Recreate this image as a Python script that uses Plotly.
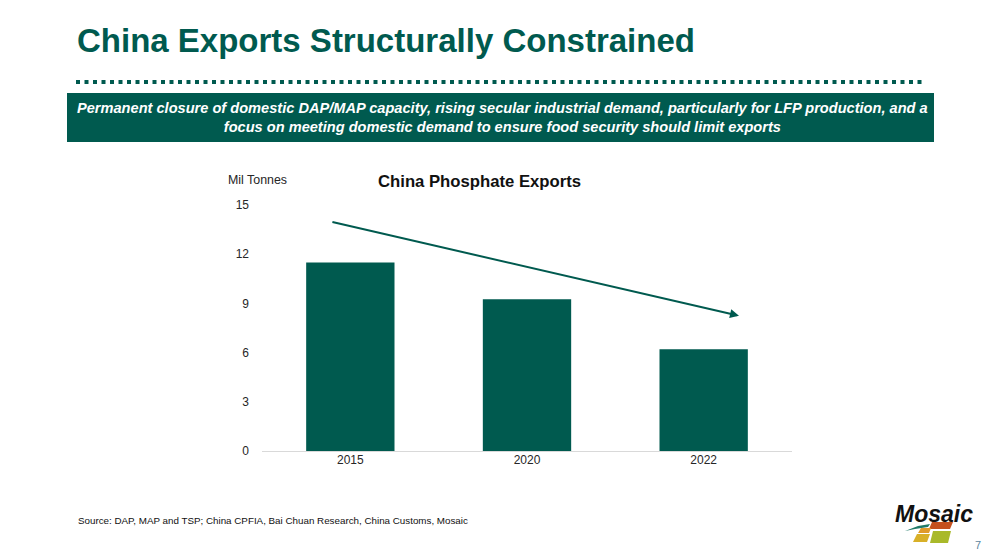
import plotly.graph_objects as go

# ---- data ----
years = ["2015", "2020", "2022"]
exports = [11.5, 9.25, 6.2]
y_ticks = [0, 3, 6, 9, 12, 15]
trend_start = [-0.11, 13.98]   # (category index, Mil Tonnes)
trend_end = [2.2, 8.25]

title_text = "China Exports Structurally Constrained"
banner_text = ("Permanent closure of domestic DAP/MAP capacity, rising secular industrial demand, particularly for LFP production, and a"
               "<br>focus on meeting domestic demand to ensure food security should limit exports")
chart_title = "China Phosphate Exports"
unit_label = "Mil Tonnes"
source_text = "Source: DAP, MAP and TSP; China CPFIA, Bai Chuan Research, China Customs, Mosaic"

W, H = 1000, 559
TEAL = "#005A4F"
FONT = "Liberation Sans, Arial, sans-serif"


def px(x):
    return x / W


def py(y):
    return 1 - y / H


fig = go.Figure()
fig.add_trace(go.Bar(x=years, y=exports, marker=dict(color=TEAL, line=dict(width=0)),
                     hoverinfo="x+y"))

shapes = []
# dotted rule
shapes.append(dict(type="line", xref="paper", yref="paper",
                   x0=px(76), x1=px(923), y0=py(82), y1=py(82),
                   line=dict(color=TEAL, width=4, dash="4px,4.5px")))
# banner
shapes.append(dict(type="rect", xref="paper", yref="paper",
                   x0=px(67), x1=px(934), y0=py(142), y1=py(93),
                   fillcolor=TEAL, line=dict(width=0), layer="below"))


def poly(points, color):
    d = "M " + " L ".join(f"{px(a):.5f},{py(b):.5f}" for a, b in points) + " Z"
    return dict(type="path", xref="paper", yref="paper", path=d,
                fillcolor=color, line=dict(width=0))


# logo tiles
shapes.append(poly([(905, 531), (918, 526), (930, 524), (928, 527), (915, 529)], "#1F7A68"))
shapes.append(poly([(932, 522), (953, 522), (950, 529), (929, 529)], "#C4501E"))
shapes.append(poly([(921, 528), (931, 528), (929, 533), (918, 533)], "#E09A2A"))
shapes.append(poly([(917, 534), (930, 534), (927, 542), (913, 542)], "#D8B028"))
shapes.append(poly([(933, 531), (951, 531), (948, 543), (930, 543)], "#A9B92A"))

annotations = [
    dict(text=f"<b>{title_text}</b>", xref="paper", yref="paper", x=px(75), y=py(40),
         xanchor="left", yanchor="middle", showarrow=False,
         font=dict(family=FONT, size=33, color=TEAL)),
    dict(text=f"<b><i>{banner_text}</i></b>", xref="paper", yref="paper", x=px(502), y=py(117),
         xanchor="center", yanchor="middle", showarrow=False, align="center",
         font=dict(family=FONT, size=14.6, color="white")),
    dict(text=f"<b>{chart_title}</b>", xref="paper", yref="paper", x=px(479), y=py(181),
         xanchor="center", yanchor="middle", showarrow=False,
         font=dict(family=FONT, size=16.7, color="#111111")),
    dict(text=unit_label, xref="paper", yref="paper", x=px(226), y=py(180),
         xanchor="left", yanchor="middle", showarrow=False,
         font=dict(family=FONT, size=12.4, color="#262626")),
    dict(text=source_text, xref="paper", yref="paper", x=px(76), y=py(520),
         xanchor="left", yanchor="middle", showarrow=False,
         font=dict(family=FONT, size=9.8, color="#111111")),
    dict(text="<b><i>Mosaic</i></b>", xref="paper", yref="paper", x=px(934), y=py(514),
         xanchor="center", yanchor="middle", showarrow=False,
         font=dict(family=FONT, size=23, color="#111111")),
    dict(text="7", xref="paper", yref="paper", x=px(978), y=py(545),
         xanchor="center", yanchor="middle", showarrow=False,
         font=dict(family=FONT, size=11, color="#5B86A0")),
    # trend arrow
    dict(x=trend_end[0], y=trend_end[1], ax=trend_start[0], ay=trend_start[1],
         xref="x", yref="y", axref="x", ayref="y", text="", showarrow=True,
         arrowhead=2, arrowsize=0.9, arrowwidth=2, arrowcolor=TEAL),
]

fig.update_layout(
    width=W, height=H,
    margin=dict(l=0, r=0, t=0, b=0, pad=0, autoexpand=False),
    paper_bgcolor="white", plot_bgcolor="white",
    showlegend=False,
    bargap=0.5,
    shapes=shapes,
    annotations=annotations,
    font=dict(family=FONT, size=12, color="#262626"),
    xaxis=dict(domain=[0.262, 0.792], type="category", range=[-0.5, 2.5],
               showline=False, showgrid=False, ticks="", zeroline=False, automargin=False,
               tickfont=dict(size=12, color="#262626"), fixedrange=True),
    yaxis=dict(domain=[1 - 451 / H, 1 - 205 / H], range=[0, 15],
               tickvals=y_ticks, showgrid=False, showline=False, automargin=False,
               zeroline=True, zerolinecolor="#D9D9D9", zerolinewidth=1,
               tickfont=dict(size=12, color="#262626"), ticks="", ticklabelstandoff=12,
               fixedrange=True),
)

fig.write_html("out.html", config={"displayModeBar": False})
